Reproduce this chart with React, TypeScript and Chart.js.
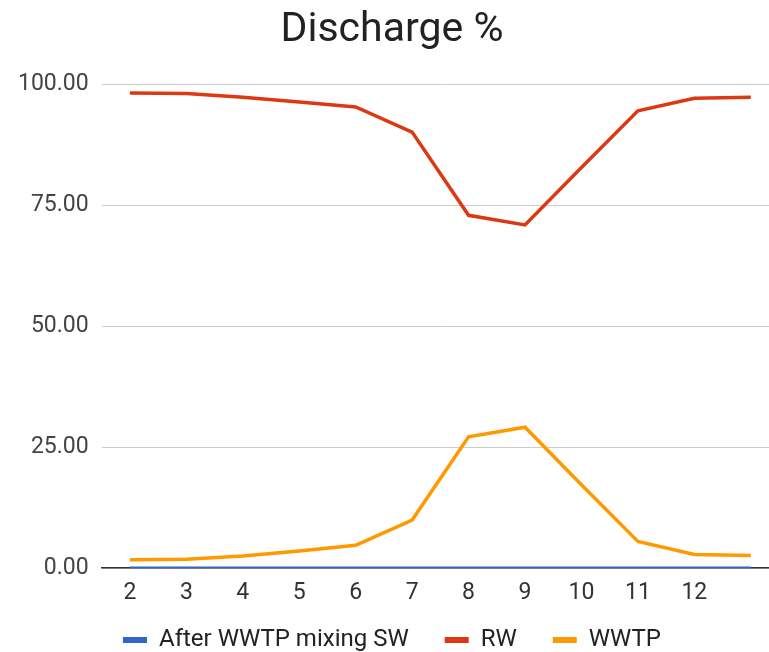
import React, { useEffect, useRef } from "react";
import { Chart, registerables } from "chart.js";

Chart.register(...registerables);

const categories = ["2", "3", "4", "5", "6", "7", "8", "9", "10", "11", "12", ""];
const afterWwtpMixingSW = [0, 0, 0, 0, 0, 0, 0, 0, 0, 0, 0, 0];
const rw = [98.2, 98.1, 97.3, 96.3, 95.3, 90.1, 72.9, 70.9, 82.8, 94.5, 97.1, 97.3];
const wwtp = [1.7, 1.8, 2.5, 3.5, 4.7, 9.9, 27.1, 29.1, 17.2, 5.5, 2.8, 2.6];
const yTicks = [0, 25, 50, 75, 100];

const FONT = "Roboto, 'Noto Sans', sans-serif";

// The legend shares its upper edge with the x tick labels; start its rows a little higher.
const legendLift = {
  id: "legendLift",
  afterLayout(chart: any) {
    const l = chart.legend;
    if (l) {
      l.top -= 10;
    }
  },
};

export default function App() {
  const ref = useRef<HTMLCanvasElement | null>(null);

  useEffect(() => {
    if (!ref.current) return;
    const chart = new Chart(ref.current, {
      type: "line",
      data: {
        labels: categories,
        datasets: [
          {
            label: "After WWTP mixing SW",
            data: afterWwtpMixingSW,
            borderColor: "#3366cc",
            backgroundColor: "#3366cc",
            borderWidth: 3,
            pointRadius: 0,
            tension: 0,
          },
          {
            label: "RW",
            data: rw,
            borderColor: "#dc3912",
            backgroundColor: "#dc3912",
            borderWidth: 3.5,
            pointRadius: 0,
            tension: 0,
          },
          {
            label: "WWTP",
            data: wwtp,
            borderColor: "#ff9900",
            backgroundColor: "#ff9900",
            borderWidth: 3.5,
            pointRadius: 0,
            tension: 0,
          },
        ],
      },
      plugins: [legendLift],
      options: {
        animation: false,
        responsive: true,
        maintainAspectRatio: false,
        layout: { padding: { left: 5, right: 6, top: 0, bottom: 0 } },
        plugins: {
          title: {
            display: true,
            text: "Discharge %",
            color: "#222",
            font: { family: FONT, size: 41, weight: "normal" },
            padding: { top: 6, bottom: 29 },
          },
          legend: {
            display: true,
            position: "bottom",
            align: "center",
            maxHeight: 50,
            labels: {
              color: "#222",
              font: { family: FONT, size: 24 },
              boxWidth: 24,
              boxHeight: 6,
              padding: 36,
              generateLabels: (c: any) =>
                Chart.defaults.plugins.legend.labels
                  .generateLabels(c)
                  .map((l: any) => ({ ...l, lineWidth: 0 })),
            },
          },
          tooltip: { enabled: false },
        },
        scales: {
          x: {
            type: "category",
            offset: true,
            grid: { display: false, drawTicks: false },
            border: { display: true, color: "#333", width: 1.5 },
            ticks: {
              color: "#333",
              font: { family: FONT, size: 23, lineHeight: 0.6 },
              padding: 18,
              autoSkip: false,
              maxRotation: 0,
            },
            afterFit: (axis: any) => {
              axis.height = 34;
            },
          },
          y: {
            min: 0,
            max: 100,
            afterBuildTicks: (axis: any) => {
              axis.ticks = yTicks.map((v) => ({ value: v }));
            },
            grid: { color: "#cccccc", lineWidth: 1, drawTicks: false },
            border: { display: false },
            ticks: {
              color: "#444",
              font: { family: FONT, size: 23 },
              padding: 13,
              callback: (v: any) => Number(v).toFixed(2),
            },
          },
        },
      },
    });
    return () => chart.destroy();
  }, []);

  return (
    <div
      style={{
        position: "absolute",
        left: 0,
        top: 0,
        width: 769,
        height: 652,
        overflow: "hidden",
        background: "#fff",
      }}
    >
      <div style={{ position: "relative", width: 785, height: 652 }}>
        <canvas ref={ref} />
      </div>
    </div>
  );
}
